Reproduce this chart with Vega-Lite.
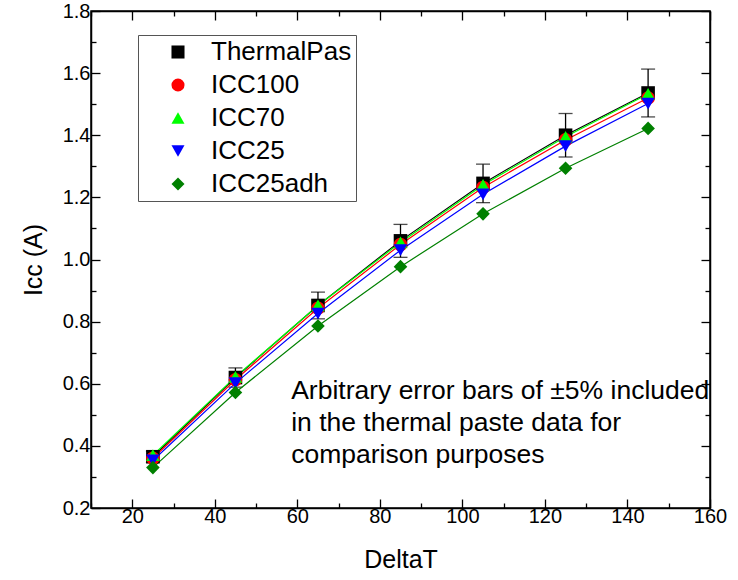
{
  "$schema": "https://vega.github.io/schema/vega-lite/v6.json",
  "width": 619,
  "height": 497,
  "autosize": {"type": "none"},
  "padding": {"left": 91, "top": 11, "right": 28, "bottom": 72},
  "background": "white",
  "config": {
    "font": "Liberation Sans",
    "view": {"stroke": "black", "strokeWidth": 1.5},
    "axis": {
      "grid": false,
      "domainColor": "black",
      "domainWidth": 1.5,
      "tickColor": "black",
      "tickWidth": 1.3,
      "labelColor": "black",
      "labelFontSize": 20,
      "labelFont": "Liberation Sans",
      "titleFont": "Liberation Sans",
      "titleFontSize": 25,
      "titleFontWeight": "normal",
      "titleColor": "black"
    }
  },
  "datasets": {
    "series": [
      {"series": "ThermalPas", "dT": 25, "Icc": 0.365},
      {"series": "ThermalPas", "dT": 45, "Icc": 0.62},
      {"series": "ThermalPas", "dT": 65, "Icc": 0.852},
      {"series": "ThermalPas", "dT": 85, "Icc": 1.06},
      {"series": "ThermalPas", "dT": 105, "Icc": 1.245},
      {"series": "ThermalPas", "dT": 125, "Icc": 1.4},
      {"series": "ThermalPas", "dT": 145, "Icc": 1.536},
      {"series": "ICC100", "dT": 25, "Icc": 0.36},
      {"series": "ICC100", "dT": 45, "Icc": 0.613},
      {"series": "ICC100", "dT": 65, "Icc": 0.843},
      {"series": "ICC100", "dT": 85, "Icc": 1.048},
      {"series": "ICC100", "dT": 105, "Icc": 1.232},
      {"series": "ICC100", "dT": 125, "Icc": 1.385},
      {"series": "ICC100", "dT": 145, "Icc": 1.52},
      {"series": "ICC70", "dT": 25, "Icc": 0.37},
      {"series": "ICC70", "dT": 45, "Icc": 0.622},
      {"series": "ICC70", "dT": 65, "Icc": 0.852},
      {"series": "ICC70", "dT": 85, "Icc": 1.055},
      {"series": "ICC70", "dT": 105, "Icc": 1.24},
      {"series": "ICC70", "dT": 125, "Icc": 1.395},
      {"series": "ICC70", "dT": 145, "Icc": 1.533},
      {"series": "ICC25", "dT": 25, "Icc": 0.353},
      {"series": "ICC25", "dT": 45, "Icc": 0.602},
      {"series": "ICC25", "dT": 65, "Icc": 0.826},
      {"series": "ICC25", "dT": 85, "Icc": 1.03},
      {"series": "ICC25", "dT": 105, "Icc": 1.21},
      {"series": "ICC25", "dT": 125, "Icc": 1.365},
      {"series": "ICC25", "dT": 145, "Icc": 1.502},
      {"series": "ICC25adh", "dT": 25, "Icc": 0.33},
      {"series": "ICC25adh", "dT": 45, "Icc": 0.572},
      {"series": "ICC25adh", "dT": 65, "Icc": 0.786},
      {"series": "ICC25adh", "dT": 85, "Icc": 0.977},
      {"series": "ICC25adh", "dT": 105, "Icc": 1.147},
      {"series": "ICC25adh", "dT": 125, "Icc": 1.294},
      {"series": "ICC25adh", "dT": 145, "Icc": 1.422}
    ],
    "errors": [
      {"dT": 25, "lo": 0.347, "hi": 0.383},
      {"dT": 45, "lo": 0.589, "hi": 0.651},
      {"dT": 65, "lo": 0.809, "hi": 0.895},
      {"dT": 85, "lo": 1.007, "hi": 1.113},
      {"dT": 105, "lo": 1.183, "hi": 1.307},
      {"dT": 125, "lo": 1.33, "hi": 1.47},
      {"dT": 145, "lo": 1.459, "hi": 1.613}
    ],
    "note": [
      {"dT": 58.5, "Icc": 0.618, "text": ["Arbitrary error bars of ±5% included", "in the thermal paste data for", "comparison purposes"]}
    ]
  },
  "resolve": {"axis": {"x": "independent", "y": "independent"}},
  "layer": [
    {
      "data": {"name": "errors"},
      "mark": {"type": "errorbar", "color": "black", "thickness": 1.3, "ticks": {"size": 14, "color": "black", "thickness": 1.3}},
      "encoding": {
        "x": {"field": "dT", "type": "quantitative", "axis": null, "scale": {"domain": [10, 160], "nice": false, "zero": false}},
        "y": {"field": "lo", "type": "quantitative", "axis": null, "scale": {"domain": [0.2, 1.8], "nice": false, "zero": false}},
        "y2": {"field": "hi"}
      }
    },
    {
      "data": {"name": "series"},
      "mark": {"type": "line", "strokeWidth": 1.2},
      "encoding": {
        "x": {
          "field": "dT", "type": "quantitative",
          "scale": {"domain": [10, 160], "nice": false, "zero": false},
          "axis": {
            "title": "DeltaT",
            "values": [10, 20, 30, 40, 50, 60, 70, 80, 90, 100, 110, 120, 130, 140, 150, 160],
            "labelExpr": "datum.value % 20 === 0 ? datum.label : ''",
            "tickSize": {"condition": {"test": "datum.value % 20 === 0", "value": -9}, "value": -5},
            "labelPadding": 7,
            "titlePadding": 21,
            "labelFlush": false
          }
        },
        "y": {
          "field": "Icc", "type": "quantitative",
          "scale": {"domain": [0.2, 1.8], "nice": false, "zero": false},
          "axis": {
            "title": "Icc (A)",
            "values": [0.2, 0.3, 0.4, 0.5, 0.6, 0.7, 0.8, 0.9, 1.0, 1.1, 1.2, 1.3, 1.4, 1.5, 1.6, 1.7, 1.8],
            "labelExpr": "round(datum.value * 10) % 2 === 0 ? format(datum.value, '.1f') : ''",
            "tickSize": {"condition": {"test": "round(datum.value * 10) % 2 === 0", "value": -9}, "value": -5},
            "labelPadding": 10,
            "titlePadding": 16,
            "labelFlush": false
          }
        },
        "color": {
          "field": "series", "type": "nominal",
          "scale": {"domain": ["ThermalPas", "ICC100", "ICC70", "ICC25", "ICC25adh"], "range": ["#000000", "#ff0000", "#00ff00", "#0000ff", "#008000"]},
          "legend": {
            "title": null,
            "orient": "none",
            "legendX": 47,
            "legendY": 24,
            "strokeColor": "#555555",
            "fillColor": "white",
            "padding": 4,
            "labelFontSize": 26,
            "labelColor": "black",
            "symbolSize": 170,
            "symbolStrokeWidth": 0,
            "symbolOffset": 23,
            "rowPadding": 7,
            "labelOffset": 20
          }
        }
      }
    },
    {
      "data": {"name": "series"},
      "mark": {"type": "point", "filled": true, "opacity": 1, "size": 185},
      "encoding": {
        "x": {"field": "dT", "type": "quantitative", "axis": null, "scale": {"domain": [10, 160], "nice": false, "zero": false}},
        "y": {"field": "Icc", "type": "quantitative", "axis": null, "scale": {"domain": [0.2, 1.8], "nice": false, "zero": false}},
        "color": {"field": "series", "type": "nominal"},
        "shape": {
          "field": "series", "type": "nominal",
          "scale": {"domain": ["ThermalPas", "ICC100", "ICC70", "ICC25", "ICC25adh"], "range": ["square", "circle", "triangle-up", "triangle-down", "diamond"]},
          "legend": {"title": null}
        }
      }
    },
    {
      "data": {"name": "note"},
      "mark": {"type": "text", "align": "left", "baseline": "top", "fontSize": 26.5, "lineHeight": 32, "color": "black"},
      "encoding": {
        "x": {
          "field": "dT", "type": "quantitative",
          "scale": {"domain": [10, 160], "nice": false, "zero": false},
          "axis": {
            "orient": "top", "title": null, "labels": false,
            "values": [10, 20, 30, 40, 50, 60, 70, 80, 90, 100, 110, 120, 130, 140, 150, 160],
            "tickSize": {"condition": {"test": "datum.value % 20 === 0", "value": -9}, "value": -5}
          }
        },
        "y": {
          "field": "Icc", "type": "quantitative",
          "scale": {"domain": [0.2, 1.8], "nice": false, "zero": false},
          "axis": {
            "orient": "right", "title": null, "labels": false,
            "values": [0.2, 0.3, 0.4, 0.5, 0.6, 0.7, 0.8, 0.9, 1.0, 1.1, 1.2, 1.3, 1.4, 1.5, 1.6, 1.7, 1.8],
            "tickSize": {"condition": {"test": "round(datum.value * 10) % 2 === 0", "value": -9}, "value": -5}
          }
        },
        "text": {"field": "text"}
      }
    }
  ]
}
